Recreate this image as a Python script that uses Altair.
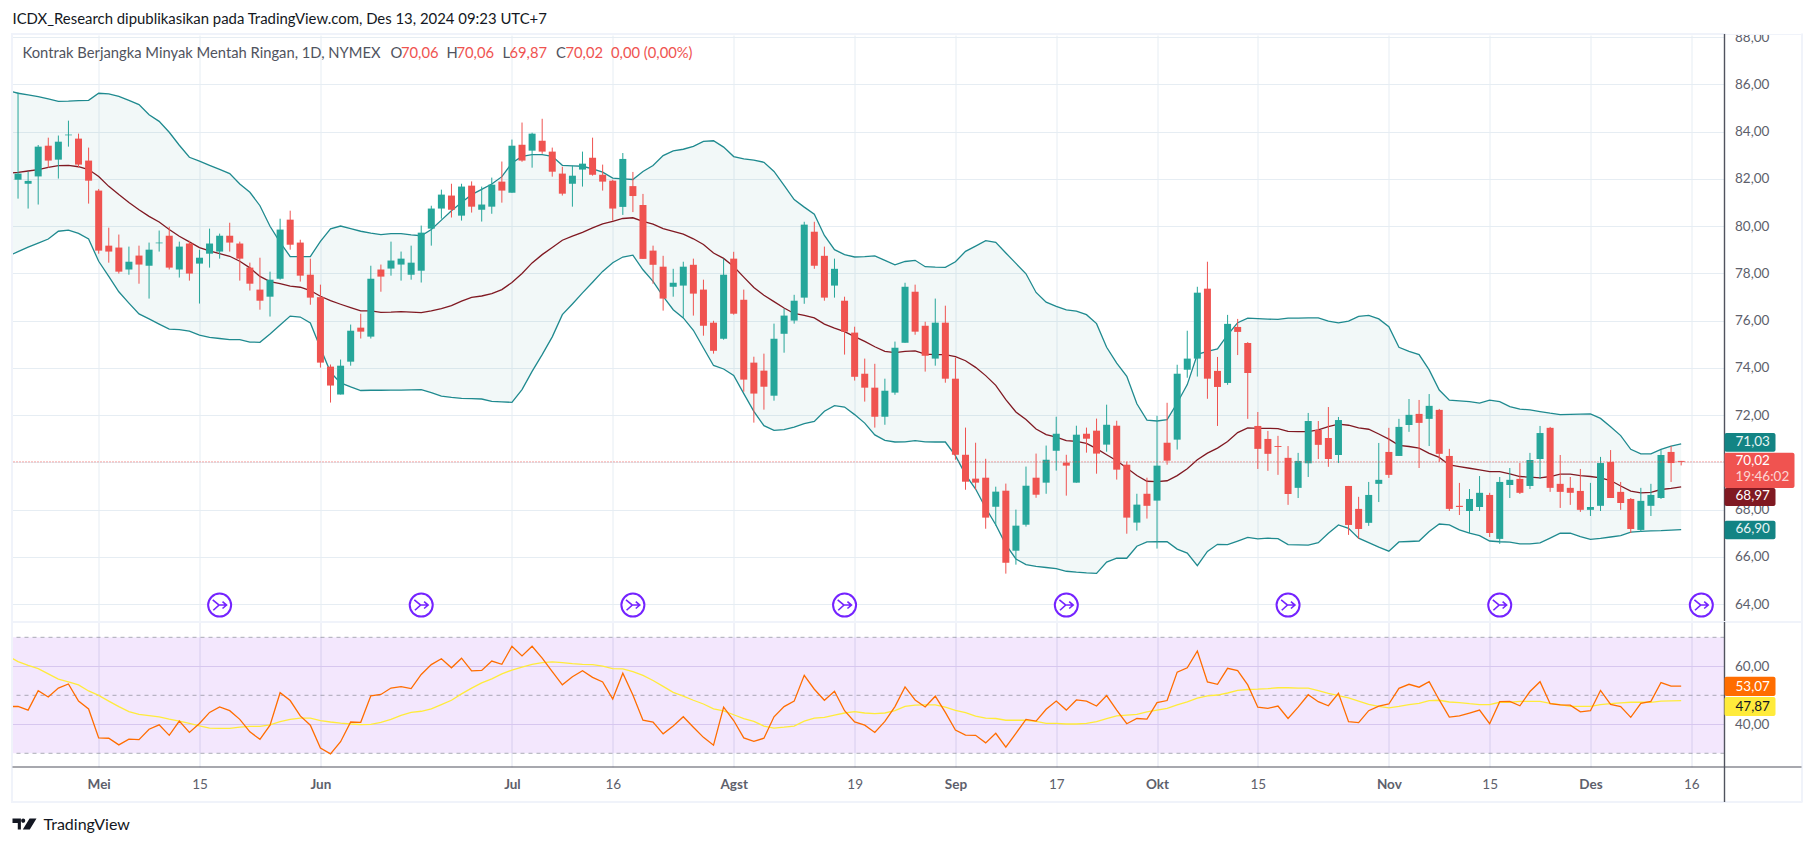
import altair as alt
import pandas as pd

FONT = "Lato"

opens = [81.96,81.79,82.10,83.40,82.81,83.84,83.70,82.77,81.50,79.17,
79.09,78.16,78.75,78.32,79.27,79.59,78.16,79.26,78.41,78.83,
78.92,79.59,79.26,78.24,77.31,77.01,77.77,80.27,79.30,77.94,
76.99,74.05,72.87,74.26,75.70,75.32,78.16,78.20,78.37,77.94,
78.11,79.89,80.74,81.29,80.44,81.71,80.69,80.82,81.88,81.41,
83.44,83.19,83.61,83.15,82.22,81.79,82.39,82.89,82.17,81.92,
80.81,81.69,80.89,78.96,78.28,77.43,77.48,78.36,77.31,75.91,
75.23,78.62,76.88,74.22,73.88,72.82,75.44,76.00,76.97,79.76,
78.74,77.48,76.84,75.49,73.75,73.16,71.93,72.95,75.06,77.22,
75.78,74.39,75.91,73.54,70.32,69.31,69.35,68.12,68.80,66.26,
67.36,69.35,69.14,70.49,69.99,69.14,71.21,71.34,70.75,71.55,
69.90,67.45,68.67,68.38,70.83,70.96,73.92,74.39,77.35,73.87,
73.36,75.73,75.05,71.54,70.99,70.69,70.19,68.92,69.96,71.37,
71.03,70.31,69.00,68.03,67.44,69.09,70.44,70.27,71.58,72.05,
71.84,72.22,70.27,68.16,67.94,68.11,68.62,66.76,69.04,69.30,
69.00,70.14,71.46,69.09,68.92,68.79,67.99,68.16,70.02,68.75,
68.45,67.14,68.16,68.49,70.44,70.06]
closes = [82.22,81.91,83.36,82.77,83.57,83.87,82.60,81.92,78.96,78.92,
78.07,78.49,78.37,79.00,79.30,78.24,79.13,77.99,78.66,79.26,
79.59,79.30,78.62,77.56,76.84,77.73,79.85,79.21,77.90,76.97,
74.22,73.25,74.09,75.57,75.53,77.77,77.86,78.54,78.62,78.45,
79.72,80.74,81.33,80.69,81.67,80.82,80.91,81.75,81.50,83.40,
82.77,83.91,83.15,82.30,81.37,82.13,82.64,82.17,81.88,80.74,
82.84,81.27,78.61,78.36,76.93,77.60,78.28,77.14,75.78,74.72,
77.94,76.29,73.50,72.91,73.20,75.23,76.21,76.84,80.06,78.32,
76.97,78.19,75.53,73.62,73.16,71.93,73.03,74.85,77.43,75.53,
74.51,75.91,73.54,70.32,69.18,69.14,67.66,68.76,65.75,67.32,
69.01,68.63,70.11,71.21,69.86,71.17,71.00,70.37,71.59,69.69,
67.66,68.21,68.16,69.86,70.07,73.75,74.39,77.18,73.54,73.19,
75.86,75.52,73.78,70.57,70.36,70.65,68.66,70.06,71.75,70.74,
70.14,71.79,67.35,67.18,68.62,69.26,69.47,71.50,72.01,71.67,
72.39,70.36,68.03,68.11,68.45,68.71,67.01,69.17,69.26,68.71,
70.10,71.24,68.92,68.75,68.71,67.99,68.11,69.97,68.49,68.28,
67.18,68.37,68.62,70.31,69.97,70.02]
highs = [85.66,82.30,83.43,83.74,83.83,84.46,83.91,83.32,81.57,79.93,
79.64,79.13,79.17,79.30,79.81,79.97,79.34,79.38,79.00,79.89,
79.68,80.14,79.34,78.45,78.66,78.07,80.31,80.65,79.42,78.62,
77.52,74.14,74.35,75.83,76.29,78.32,78.37,79.34,78.92,79.17,
80.02,80.86,81.54,81.79,81.79,81.89,81.67,82.05,82.73,83.66,
84.38,83.95,84.54,83.32,82.51,82.56,83.15,83.74,82.60,81.96,
83.09,82.29,81.36,79.17,78.74,78.19,78.49,78.62,77.73,75.99,
78.62,78.91,77.31,74.47,74.60,75.87,76.50,77.09,80.18,80.18,
79.13,78.62,77.01,75.74,74.39,74.17,73.54,75.11,77.60,77.52,
75.95,76.93,76.63,74.43,71.47,70.83,70.15,68.97,69.10,68.00,
69.82,70.37,70.71,71.93,70.32,71.55,71.47,71.85,72.44,71.76,
70.03,68.67,69.35,71.97,72.52,74.13,75.57,77.43,78.49,74.46,
76.24,76.07,75.09,72.13,71.33,71.12,70.69,70.40,72.09,71.75,
72.34,71.92,69.00,68.54,69.17,70.82,71.46,71.84,72.68,72.64,
72.89,72.26,70.57,69.13,68.87,69.42,68.71,69.38,69.76,69.97,
70.40,71.54,71.50,70.31,69.38,69.72,69.13,70.23,70.52,69.17,
68.49,68.92,69.09,70.52,70.69,70.06]
lows = [81.16,80.74,80.91,82.46,82.01,83.36,82.49,80.95,78.83,78.45,
77.99,77.94,77.56,76.93,78.92,78.16,77.82,77.69,76.72,78.24,
78.62,78.92,77.69,77.27,76.46,76.17,77.73,79.00,77.65,76.67,
74.01,72.53,72.87,74.09,75.24,75.24,77.22,77.90,77.69,77.73,
77.61,79.17,80.31,80.36,80.23,80.57,80.19,80.52,80.99,81.41,
82.72,82.47,83.06,82.09,81.29,80.82,81.67,82.13,81.50,80.23,
80.47,80.59,78.61,77.56,76.42,77.01,76.12,76.21,75.36,74.60,
75.19,76.25,72.99,71.68,72.23,72.61,74.64,75.87,76.71,78.19,
76.84,76.97,74.56,73.46,72.57,71.47,71.59,72.86,75.06,75.40,
73.84,74.09,73.37,70.11,68.84,68.84,67.19,67.32,65.29,65.67,
67.28,68.50,68.67,69.65,68.59,69.14,70.41,69.52,70.45,69.27,
66.98,67.11,67.62,66.35,69.90,70.54,73.58,73.63,72.69,71.54,
73.28,74.54,71.84,69.72,69.64,69.47,68.20,68.49,69.38,70.14,
69.81,69.97,66.93,66.76,67.31,68.32,69.34,70.27,71.29,69.76,
70.69,70.02,67.94,67.77,67.01,67.94,66.84,66.55,68.49,68.66,
68.87,69.30,68.75,68.07,68.20,67.90,67.73,67.94,68.49,67.99,
67.01,67.05,67.73,68.45,69.17,69.87]

bb_upper = [85.73,85.62,85.55,85.48,85.38,85.28,85.29,85.31,85.32,85.62,
85.59,85.49,85.32,85.14,84.71,84.43,83.97,83.42,82.91,82.75,
82.57,82.40,82.22,81.78,81.43,80.86,79.99,79.31,78.71,78.71,
78.71,79.35,79.88,80.00,79.89,79.78,79.70,79.64,79.68,79.68,
79.63,79.59,79.85,80.25,80.65,81.00,81.33,81.55,81.78,82.09,
82.67,82.95,83.02,83.02,82.95,82.57,82.55,82.53,82.42,82.28,
82.03,82.00,81.97,82.31,82.56,82.98,83.18,83.25,83.37,83.58,
83.61,83.34,82.94,82.84,82.79,82.70,82.31,81.72,81.12,80.80,
80.50,79.60,79.00,78.79,78.69,78.71,78.74,78.55,78.36,78.50,
78.55,78.28,78.26,78.25,78.49,78.93,79.15,79.38,79.31,78.86,
78.42,77.98,77.19,76.78,76.60,76.45,76.40,76.25,75.87,74.87,
74.20,73.64,72.48,71.79,71.75,71.81,72.51,73.29,74.57,74.70,
74.80,75.39,75.91,76.10,76.08,76.06,76.05,76.10,76.10,76.11,
76.11,75.98,75.90,75.98,76.18,76.22,76.07,75.74,74.87,74.70,
74.56,73.91,73.06,72.63,72.60,72.57,72.51,72.63,72.57,72.36,
72.25,72.22,72.15,72.08,72.02,72.03,72.04,72.05,71.86,71.51,
71.13,70.55,70.36,70.36,70.55,70.69,70.78]
bb_mid = [82.23,82.27,82.33,82.39,82.48,82.56,82.57,82.51,82.39,82.10,
81.68,81.33,81.00,80.69,80.41,80.17,79.85,79.57,79.33,79.09,
78.95,78.83,78.72,78.51,78.23,77.87,77.65,77.56,77.46,77.41,
77.27,77.03,76.84,76.69,76.55,76.41,76.41,76.35,76.36,76.38,
76.36,76.34,76.41,76.51,76.63,76.82,76.98,77.04,77.14,77.31,
77.61,77.99,78.44,78.79,79.09,79.40,79.57,79.73,79.92,80.09,
80.20,80.32,80.35,80.20,80.08,79.89,79.77,79.66,79.46,79.22,
78.86,78.63,78.29,77.84,77.40,77.07,76.80,76.53,76.30,76.22,
76.11,75.85,75.68,75.53,75.32,75.12,74.89,74.70,74.64,74.70,
74.72,74.58,74.56,74.56,74.47,74.30,74.02,73.67,73.26,72.65,
72.13,71.81,71.41,71.17,71.07,70.92,70.89,70.80,70.58,70.32,
70.07,69.76,69.44,69.20,69.18,69.22,69.44,69.73,70.11,70.39,
70.60,70.88,71.26,71.46,71.44,71.44,71.43,71.31,71.30,71.30,
71.37,71.51,71.62,71.57,71.46,71.40,71.20,70.98,70.72,70.67,
70.60,70.38,70.21,69.89,69.82,69.75,69.68,69.61,69.61,69.51,
69.40,69.37,69.34,69.40,69.50,69.50,69.44,69.40,69.34,69.23,
69.00,68.78,68.71,68.73,68.85,68.90,68.96]
bb_lower = [78.72,78.92,79.11,79.28,79.45,79.78,79.83,79.69,79.45,78.51,
77.87,77.22,76.74,76.28,76.07,75.85,75.64,75.62,75.55,75.38,
75.29,75.24,75.19,75.19,75.09,75.08,75.43,75.81,76.19,76.15,
75.90,74.84,73.81,73.36,73.19,73.04,73.05,73.05,73.06,73.06,
73.07,73.08,72.95,72.80,72.75,72.71,72.70,72.68,72.58,72.56,
72.54,73.08,73.85,74.56,75.31,76.25,76.70,77.17,77.62,78.08,
78.45,78.69,78.77,78.15,77.66,77.02,76.46,76.11,75.59,74.84,
74.10,73.95,73.68,72.91,72.16,71.55,71.35,71.38,71.49,71.64,
71.73,72.16,72.40,72.34,72.02,71.66,71.16,70.93,70.86,70.87,
70.92,70.87,70.86,70.86,70.28,69.48,68.87,68.07,67.36,66.52,
65.91,65.67,65.60,65.55,65.50,65.39,65.35,65.32,65.30,65.78,
65.95,65.94,66.45,66.63,66.64,66.64,66.33,66.16,65.63,66.23,
66.53,66.52,66.67,66.82,66.76,66.79,66.77,66.52,66.51,66.50,
66.60,67.00,67.35,67.21,66.79,66.60,66.41,66.24,66.63,66.65,
66.67,67.07,67.39,67.35,67.14,67.00,66.90,66.67,66.64,66.62,
66.55,66.55,66.59,66.79,67.00,67.00,66.86,66.74,66.78,66.84,
66.90,67.05,67.08,67.10,67.11,67.13,67.15]

rsi = [46.1,46.2,44.9,51.6,49.4,52.5,53.9,48.0,45.3,35.3,
35.2,32.9,34.9,34.7,38.3,39.8,36.2,41.1,37.2,40.3,
44.1,46.0,44.7,41.7,37.4,34.8,39.7,50.9,48.2,42.9,
39.7,31.8,29.8,34.0,40.8,40.7,49.8,50.3,52.5,53.0,
52.3,57.2,60.6,62.6,59.5,62.8,58.4,58.6,61.8,60.7,
66.9,63.6,66.9,62.8,58.2,53.6,56.4,58.5,56.2,54.6,
48.7,57.6,50.1,41.4,40.8,36.7,39.4,42.6,39.0,35.5,
32.8,45.9,41.3,35.3,34.1,35.2,42.6,46.1,48.0,56.9,
52.1,48.3,51.4,44.7,40.8,39.7,37.2,41.0,46.1,52.9,
48.4,46.0,49.7,44.1,38.0,36.3,36.2,33.6,36.9,32.1,
36.9,41.7,41.1,45.2,48.0,44.9,48.4,48.0,46.3,49.9,
44.9,40.2,42.0,41.8,47.5,48.2,58.0,59.5,65.3,54.6,
53.8,59.3,58.5,53.6,45.9,45.5,46.3,42.0,45.9,50.2,
47.8,46.4,50.7,40.9,40.6,44.7,46.3,47.0,52.4,53.8,
52.8,54.7,48.4,42.5,42.9,43.9,44.9,40.2,47.8,47.9,
46.4,51.3,54.7,47.1,46.7,46.6,44.3,44.7,51.7,46.9,
46.1,42.4,47.2,47.9,54.4,53.2,53.2]
rsi_ma = [63.6,61.6,60.3,59.2,57.4,55.6,54.6,53.6,51.5,50.0,
48.0,46.1,44.4,43.4,43.0,42.6,41.8,41.1,40.3,39.5,
38.7,38.6,38.6,39.0,39.3,39.3,39.8,40.9,41.7,42.1,
42.1,41.3,40.8,40.4,40.1,39.9,40.0,40.7,41.7,43.1,
44.1,44.5,45.3,46.8,48.3,50.5,52.5,54.3,55.7,57.4,
58.7,59.7,60.7,61.3,61.5,61.3,60.9,60.7,60.6,60.1,
59.2,59.1,58.2,56.9,55.1,53.1,51.0,49.7,48.3,47.0,
45.3,44.6,43.3,42.0,41.0,39.4,38.7,39.0,39.4,41.1,
42.1,42.4,43.2,43.9,44.4,43.9,43.7,43.9,44.7,46.2,
46.6,46.7,46.7,45.9,44.8,44.0,42.8,42.1,42.0,41.4,
41.4,41.4,41.0,40.3,40.3,40.1,40.1,40.3,40.9,42.0,
42.9,43.2,43.4,44.3,44.9,45.5,46.7,47.7,49.0,49.8,
50.1,50.8,51.7,52.0,52.1,52.3,52.6,52.6,52.5,52.5,
51.6,50.7,49.9,49.1,48.0,46.9,46.2,45.7,46.2,46.8,
47.2,48.2,48.3,47.7,47.5,47.1,46.8,46.8,47.6,47.6,
47.9,47.9,47.9,47.2,46.8,46.2,46.2,46.2,46.8,47.1,
47.4,47.6,47.6,47.6,48.0,48.1,48.2]

tick_index = [8,18,30,49,59,71,83,93,103,113,123,136,146,156,166]
tick_labels = ["Mei","15","Jun","Jul","16","Agst","19","Sep","17","Okt","15","Nov","15","Des","16"]
bold_ticks = [8,30,49,71,93,113,136,156]
price_ticks = [64,66,68,70,72,74,76,78,80,82,84,86,88]
rsi_ticks = [40,60]
rsi_dashes = [70,50,30]
marker_index = [20,40,61,82,104,126,147,167]
marker_level = 63.96
last_close = 70.02

GRID = "#e6edf3"
FRAME = "#f0f3fa"
AXIS = "#50535e"
LABEL = "#5d606b"
RED = "#ef5350"
GREEN = "#26a69a"
TEAL = "#138484"

W, H_P, H_R = 1712, 587, 145
xscale = alt.Scale(domain=[-0.55, 169.3], nice=False, zero=False, padding=0)
pscale = alt.Scale(domain=[63.243, 88.085], nice=False, zero=False, padding=0)
rscale = alt.Scale(domain=[25.28, 75.28], nice=False, zero=False, padding=0)

candles = pd.DataFrame({"i": range(166), "o": opens, "h": highs, "l": lows, "c": closes})
candles["dir"] = ["up" if c > o else "down" for o, c in zip(opens, closes)]
bands = pd.DataFrame({"i": range(-1, 166), "u": bb_upper, "m": bb_mid, "d": bb_lower})
osc = pd.DataFrame({"i": range(-1, 166), "r": rsi, "a": rsi_ma})
one = pd.DataFrame({"a": [0]})

label_map = "{" + ",".join(f"{k}:'{v}'" for k, v in zip(tick_index, tick_labels)) + "}"
bold_test = " || ".join(f"datum.value=={k}" for k in bold_ticks)
num_expr = "replace(format(datum.value,'.2f'),'.',',')"

x_price = alt.X("i:Q", scale=xscale, title=None, axis=alt.Axis(
    values=tick_index, grid=True, gridColor=GRID, gridWidth=1, labels=False, ticks=False, domain=False))
x_rsi = alt.X("i:Q", scale=xscale, title=None, axis=alt.Axis(
    values=tick_index, grid=True, gridColor="#e0e3f0", gridWidth=1, labelExpr=label_map + "[datum.value]",
    labelFont=FONT, labelFontSize=13.5, labelColor=LABEL, labelPadding=10, labelOverlap=False, labelFlush=False,
    labelFontWeight=alt.condition(bold_test, alt.value("bold"), alt.value("normal")),
    ticks=False, domain=False))
y_price = alt.Axis(values=price_ticks, orient="right", grid=True, gridColor=GRID, gridWidth=1, ticks=False,
                   domain=False, labelExpr=num_expr, labelFont=FONT, labelFontSize=13.5, labelColor=LABEL,
                   labelPadding=10, title=None, labelOverlap=False, labelBound=False, labelFlush=False)
y_rsi = alt.Axis(values=rsi_ticks, orient="right", grid=True, gridColor="#e0dcf0", gridWidth=1, ticks=False,
                 domain=False, labelExpr=num_expr, labelFont=FONT, labelFontSize=13.5, labelColor=LABEL,
                 labelPadding=10, title=None)


def rule(x, x2, y, y2, color, w=1.0):
    enc = {"x": alt.value(x), "y": alt.value(y)}
    if x2 is not None:
        enc["x2"] = alt.value(x2)
    if y2 is not None:
        enc["y2"] = alt.value(y2)
    return alt.Chart(one).mark_rule(color=color, strokeWidth=w, clip=False).encode(**enc)


def box(x, x2, y, y2, color, radius=2):
    return alt.Chart(one).mark_rect(color=color, cornerRadius=radius, clip=False).encode(
        x=alt.value(x), x2=alt.value(x2), y=alt.value(y), y2=alt.value(y2))


def label(x, y, s, color, size=13.5, weight="normal"):
    return alt.Chart(one).mark_text(align="left", baseline="middle", font=FONT, fontSize=size, color=color,
                                    fontWeight=weight, clip=False).encode(
        x=alt.value(x), y=alt.value(y), text=alt.value(s))


P = lambda f: alt.Y(f, type="quantitative", scale=pscale, axis=y_price, title=None)
R = lambda f: alt.Y(f, type="quantitative", scale=rscale, axis=y_rsi, title=None)

base_p = alt.Chart(bands).encode(x=x_price)
area = base_p.mark_area(color=TEAL, opacity=0.055, clip=True).encode(y=P("u"), y2=alt.Y2("d"))
upper = base_p.mark_line(color="#1f8a8f", strokeWidth=1.3, clip=True).encode(y=P("u"))
lower = base_p.mark_line(color="#1f8a8f", strokeWidth=1.3, clip=True).encode(y=P("d"))
middle = base_p.mark_line(color="#801922", strokeWidth=1.3, clip=True).encode(y=P("m"))

cscale = alt.Color("dir:N", scale=alt.Scale(domain=["up", "down"], range=[GREEN, RED]), legend=None)
wick = alt.Chart(candles).mark_rule(strokeWidth=1).encode(x=x_price, y=P("l"), y2=alt.Y2("h"), color=cscale)
body = alt.Chart(candles).mark_bar(size=7).encode(x=x_price, y=P("o"), y2=alt.Y2("c"), color=cscale)

lastline = alt.Chart(pd.DataFrame({"v": [last_close]})).mark_rule(
    color=RED, strokeWidth=1, strokeDash=[1, 2]).encode(y=P("v"))

arrows = "M-.6,-.45 L-.05,0 L-.55,.45 M-.05,0 L.6,0 M.25,-.3 L.6,0 L.25,.3"
mk = pd.DataFrame({"i": marker_index, "v": [marker_level] * len(marker_index)})
ring = alt.Chart(mk).mark_point(shape="circle", size=530, filled=True, fill="white", stroke="#7423ff",
                                strokeWidth=2, opacity=1, clip=False).encode(x=x_price, y=P("v"))
arrow = alt.Chart(mk).mark_point(shape=arrows, size=530, filled=False, stroke="#7423ff", strokeWidth=1.6,
                                 opacity=1, clip=False).encode(x=x_price, y=P("v"))

header = [
    box(W + 1, 1789, -24, -1, "white", 0),
    label(0, -15, "ICDX_Research dipublikasikan pada TradingView.com, Des 13, 2024 09:23 UTC+7", "#131722", 14.9),
    label(10, 18.5, "Kontrak Berjangka Minyak Mentah Ringan, 1D, NYMEX", "#50535e", 14.75),
    label(378, 18.5, "O", "#50535e", 14.75), label(388.5, 18.5, "70,06", RED, 14.75),
    label(434, 18.5, "H", "#50535e", 14.75), label(444, 18.5, "70,06", RED, 14.75),
    label(490, 18.5, "L", "#50535e", 14.75), label(497, 18.5, "69,87", RED, 14.75),
    label(543.5, 18.5, "C", "#50535e", 14.75), label(553, 18.5, "70,02", RED, 14.75),
    label(598.5, 18.5, "0,00 (0,00%)", RED, 14.75),
]
tags = [
    box(W, 1763, 398, 416.7, TEAL), label(1723, 407, "71,03", "#e8f5f4"),
    box(W, 1782, 417.7, 453, "#f05350"), label(1723, 425.7, "70,02", "white"),
    label(1723, 441.7, "19:46:02", "#fbd5d4"),
    box(W, 1763, 453, 471, "#801922"), label(1723, 461, "68,97", "white"),
    box(W, 1763, 485.7, 504.3, TEAL), label(1723, 494, "66,90", "#e8f5f4"),
]
frame_p = [
    rule(-0.5, None, -1, H_P, FRAME, 2),
    rule(-1.5, 1790, -1, None, FRAME, 2),
    rule(1789.5, None, -1, H_P, FRAME, 2),
    rule(W, None, -1, H_P, AXIS, 1.4),
]

price = alt.layer(area, middle, upper, lower, wick, body, lastline, ring, arrow, *frame_p, *header, *tags).properties(
    width=W, height=H_P)

base_r = alt.Chart(osc).encode(x=x_rsi)
band = alt.Chart(pd.DataFrame({"a": [30], "b": [70], "i": [-0.55], "j": [169.3]})).mark_rect(
    color="#8b10f0", opacity=0.1).encode(x=x_rsi, x2=alt.X2("j"), y=R("a"), y2=alt.Y2("b"))
dash = alt.Chart(pd.DataFrame({"v": rsi_dashes})).mark_rule(
    color="#787b86", strokeWidth=1, strokeDash=[4, 4], opacity=0.6).encode(y=R("v"))
ma_line = base_r.mark_line(color="#ffeb3b", strokeWidth=1.3, clip=True).encode(y=R("a"))
rsi_line = base_r.mark_line(color="#ff6d00", strokeWidth=1.3, clip=True).encode(y=R("r"))

logo_path = ("M-1,-.46 H-.3 V.46 H-.56 V-.08 H-1 Z "
             "M.06,-.28 A.17,.17 0 1 1 -.28,-.28 A.17,.17 0 1 1 .06,-.28 Z "
             "M.42,-.46 H1 L.44,.46 H-.14 Z")
logo = alt.Chart(one).mark_point(shape=logo_path, size=576, filled=True, fill="#131722", stroke=None,
                                 opacity=1, clip=False).encode(x=alt.value(12), y=alt.value(202))
tag_r = [
    box(W, 1763, 54.7, 74, "#ff6d00"), label(1723, 64.5, "53,07", "white"),
    box(W, 1763, 75, 94, "#ffeb3b"), label(1723, 84.5, "47,87", "#131722"),
]
frame_r = [
    rule(-1.5, 1790, 0, None, FRAME, 2),
    rule(-0.5, None, 0, 180, FRAME, 2),
    rule(1789.5, None, 0, 180, FRAME, 2),
    rule(-1.5, 1790, 180, None, FRAME, 2),
    rule(0, 1789, H_R, None, AXIS, 1.2),
    rule(W, None, 0, 180, AXIS, 1.4),
]

rsi_panel = alt.layer(band, dash, ma_line, rsi_line, *frame_r, *tag_r, logo,
                      label(31, 203, "TradingView", "#131722", 16)).properties(width=W, height=H_R)

chart = alt.vconcat(price, rsi_panel, spacing=0, bounds="flush").properties(
    padding={"left": 1.5, "top": 3, "right": 0, "bottom": 0}, background="white"
).configure_view(stroke=None)

chart.save("out.html", embed_options={"renderer": "svg", "actions": False})
